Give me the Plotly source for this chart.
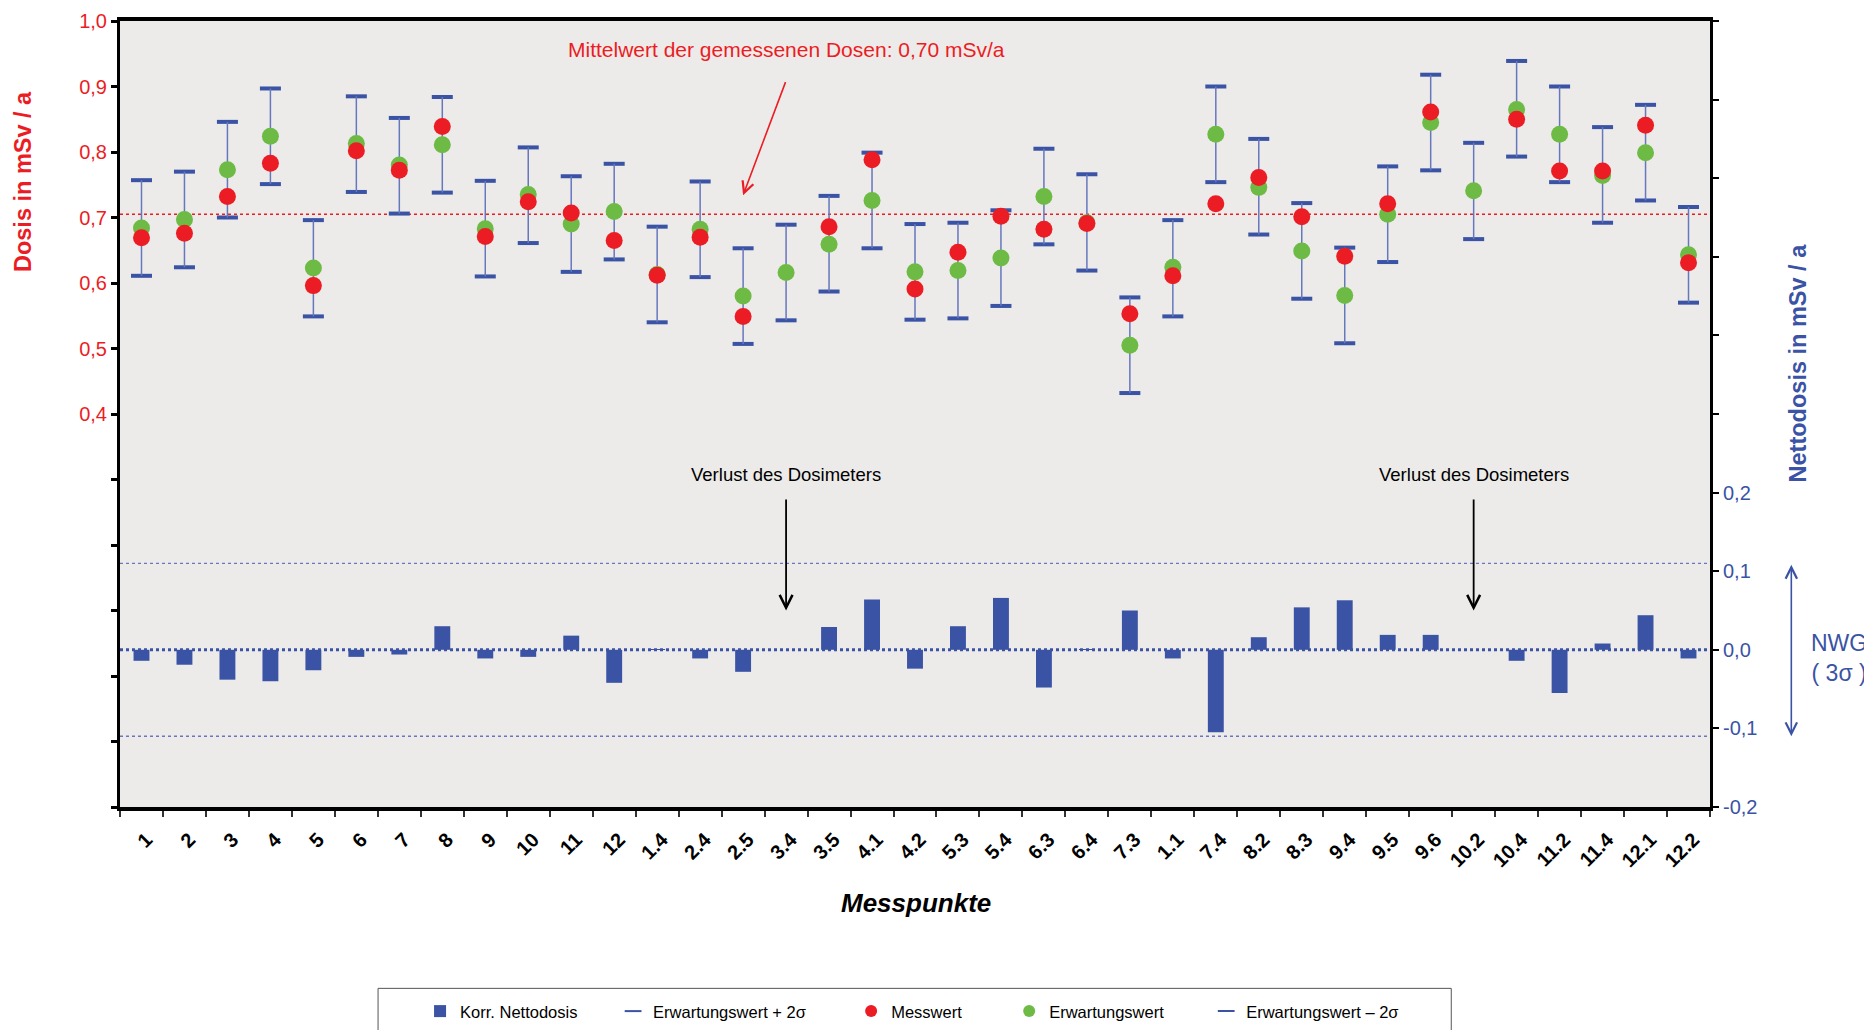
import plotly.graph_objects as go

# ---------------- data ----------------
categories = ["1", "2", "3", "4", "5", "6", "7", "8", "9", "10", "11", "12",
              "1.4", "2.4", "2.5", "3.4", "3.5", "4.1", "4.2", "5.3", "5.4", "6.3",
              "6.4", "7.3", "1.1", "7.4", "8.2", "8.3", "9.4", "9.5", "9.6", "10.2",
              "10.4", "11.2", "11.4", "12.1", "12.2"]

messwert = [0.669, 0.676, 0.732, 0.783, 0.596, 0.802, 0.772, 0.839, 0.671, 0.724,
            0.707, 0.665, 0.612, 0.670, 0.549, None, 0.686, 0.788, 0.591, 0.647,
            0.702, 0.682, 0.691, 0.553, 0.611, 0.721, 0.761, 0.701, 0.641, 0.721,
            0.861, None, 0.850, 0.771, 0.771, 0.841, 0.631]

erwartungswert = [0.684, 0.697, 0.773, 0.824, 0.623, 0.813, 0.780, 0.811, 0.683, 0.735,
                  0.690, 0.709, 0.613, 0.682, 0.580, 0.616, 0.659, 0.726, 0.617, 0.619,
                  0.638, 0.732, 0.692, 0.505, 0.624, 0.827, 0.746, 0.649, 0.581, 0.705,
                  0.845, 0.741, 0.865, 0.827, 0.764, 0.799, 0.643]

erw_plus_2s = [0.757, 0.770, 0.846, 0.897, 0.696, 0.885, 0.852, 0.884, 0.756, 0.807,
               0.763, 0.782, 0.686, 0.755, 0.653, 0.689, 0.733, 0.799, 0.690, 0.692,
               0.711, 0.805, 0.766, 0.578, 0.696, 0.900, 0.820, 0.722, 0.654, 0.778,
               0.918, 0.814, 0.939, 0.900, 0.838, 0.872, 0.716]

erw_minus_2s = [0.611, 0.624, 0.700, 0.751, 0.549, 0.739, 0.706, 0.738, 0.610, 0.661,
                0.617, 0.636, 0.540, 0.609, 0.507, 0.543, 0.587, 0.653, 0.544, 0.546,
                0.565, 0.659, 0.619, 0.432, 0.549, 0.754, 0.674, 0.576, 0.508, 0.632,
                0.772, 0.667, 0.793, 0.754, 0.692, 0.726, 0.570]

korr_nettodosis = [-0.014, -0.019, -0.038, -0.040, -0.026, -0.009, -0.006, 0.030, -0.011, -0.009,
                   0.018, -0.042, 0.001, -0.011, -0.028, None, 0.029, 0.064, -0.024, 0.030,
                   0.066, -0.048, 0.001, 0.050, -0.011, -0.105, 0.016, 0.054, 0.063, 0.019,
                   0.019, None, -0.014, -0.055, 0.008, 0.044, -0.011]

mittelwert = 0.705          # mean of measured doses (left axis)
nwg = 0.11                  # detection limit (3 sigma), right axis
verlust_punkte = ["3.4", "10.2"]
mittelwert_pfeil_von = "3.4"
mittelwert_pfeil_zu = "2.5"

left_tick_vals = [-0.2, -0.1, 0.0, 0.1, 0.2, 0.3, 0.4, 0.5, 0.6, 0.7, 0.8, 0.9, 1.0]
left_tick_text = ["", "", "", "", "", "", "0,4", "0,5", "0,6", "0,7", "0,8", "0,9", "1,0"]
right_tick_vals = [-0.2, -0.1, 0.0, 0.1, 0.2, 0.3, 0.4, 0.5, 0.6, 0.7, 0.8]
right_tick_text = ["-0,2", "-0,1", "0,0", "0,1", "0,2", "", "", "", "", "", ""]

# ---------------- styles / geometry ----------------
FONT = "Liberation Sans, Arial, Helvetica, sans-serif"
RED = "#ec1c24"
GREEN = "#6dbb45"
BLUE = "#3a53a4"
BLUE_LIGHT = "#6677bd"
BG = "#ecebe9"

PAGE_OFFSET = 8                      # default body margin of the html page
PLOT_L, PLOT_R, PLOT_T, PLOT_B = 120, 1709.7, 21, 806.7
PW, PH = PLOT_R - PLOT_L, PLOT_B - PLOT_T


def px(xp):
    return (xp - PLOT_L) / PW


def py(yp):
    return (PLOT_B - yp) / PH


def cat_idx(name):
    return categories.index(name)


err_plus = [u - e for u, e in zip(erw_plus_2s, erwartungswert)]
err_minus = [e - l for e, l in zip(erwartungswert, erw_minus_2s)]

fig = go.Figure()

fig.add_trace(go.Bar(
    x=categories, y=korr_nettodosis, yaxis="y2", name="Korr. Nettodosis",
    marker=dict(color=BLUE, line=dict(width=0)), width=0.37, legend="legend",
))
fig.add_trace(go.Scatter(
    x=categories, y=erw_plus_2s, mode="markers", name="Erwartungswert + 2σ",
    marker=dict(symbol="line-ew", size=15, line=dict(width=4, color=BLUE)),
    legend="legend2",
))
fig.add_trace(go.Scatter(
    x=categories, y=erw_minus_2s, mode="markers", name="Erwartungswert – 2σ",
    marker=dict(symbol="line-ew", size=15, line=dict(width=4, color=BLUE)),
    legend="legend5",
))
fig.add_trace(go.Scatter(
    x=categories, y=erwartungswert, mode="markers", name="Erwartungswert",
    marker=dict(symbol="circle", size=17, color=GREEN, line=dict(width=0)),
    error_y=dict(type="data", symmetric=False, array=err_plus, arrayminus=err_minus,
                 color=BLUE_LIGHT, thickness=1.5, width=0),
    legend="legend4",
))
fig.add_trace(go.Scatter(
    x=categories, y=messwert, mode="markers", name="Messwert",
    marker=dict(symbol="circle", size=17, color=RED, line=dict(width=0)),
    legend="legend3",
))

shapes = [
    dict(type="line", xref="paper", x0=0, x1=1, yref="y", y0=mittelwert, y1=mittelwert,
         line=dict(color=RED, width=1.5, dash="dot"), layer="below"),
    dict(type="line", xref="paper", x0=0, x1=1, yref="y2", y0=nwg, y1=nwg,
         line=dict(color=BLUE_LIGHT, width=1.3, dash="dot"), layer="below"),
    dict(type="line", xref="paper", x0=0, x1=1, yref="y2", y0=-nwg, y1=-nwg,
         line=dict(color=BLUE_LIGHT, width=1.3, dash="dot"), layer="below"),
    dict(type="line", xref="paper", x0=0, x1=1, yref="y2", y0=0, y1=0,
         line=dict(color=BLUE, width=3, dash="dot"), layer="above"),
    # legend frame (runs past the bottom edge as in the original)
    dict(type="path", xref="paper", yref="paper",
         path=f"M {px(378)} {py(1045)} L {px(378)} {py(988)} L {px(1451)} {py(988)} L {px(1451)} {py(1045)}",
         line=dict(color="#555555", width=1)),
]

annotations = [
    dict(text="Mittelwert der gemessenen Dosen: 0,70 mSv/a", x=cat_idx(mittelwert_pfeil_von), y=0.957,
         xref="x", yref="y", xanchor="center", yanchor="middle",
         showarrow=False, font=dict(family=FONT, size=21, color=RED)),
    dict(text="", x=cat_idx(mittelwert_pfeil_zu), y=0.734, xref="x", yref="y",
         ax=cat_idx(mittelwert_pfeil_von), ay=0.909, axref="x", ayref="y",
         showarrow=True, arrowhead=5, arrowsize=1.4, arrowwidth=1.6, arrowcolor=RED, standoff=0),
    dict(text="Dosis in mSv / a", xref="paper", yref="paper", x=px(23), y=py(181),
         xanchor="center", yanchor="middle", textangle=-90, showarrow=False,
         font=dict(family=FONT, size=23.5, color=RED, weight="bold")),
    dict(text="Nettodosis in mSv / a", xref="paper", yref="paper", x=px(1798), y=py(363),
         xanchor="center", yanchor="middle", textangle=-90, showarrow=False,
         font=dict(family=FONT, size=23.5, color=BLUE, weight="bold")),
    dict(text="Messpunkte", xref="paper", yref="paper", x=px(915.7), y=py(903),
         xanchor="center", yanchor="middle", showarrow=False,
         font=dict(family=FONT, size=26, color="black", weight="bold", style="italic")),
    dict(text="NWG<br>( 3σ )", xref="paper", yref="y2", x=px(1839), y=-0.011,
         xanchor="center", yanchor="middle",
         showarrow=False, align="center", font=dict(family=FONT, size=23, color=BLUE)),
    dict(text="", xref="paper", yref="y2", x=px(1791), y=-nwg, axref="pixel", ax=0,
         ayref="y2", ay=nwg, showarrow=True, arrowside="end+start", arrowhead=5, startarrowhead=5,
         arrowsize=1.4, startarrowsize=1.4, arrowwidth=1.6, arrowcolor=BLUE, standoff=0, startstandoff=0),
]
for p in verlust_punkte:
    i = cat_idx(p)
    annotations.append(dict(text="Verlust des Dosimeters", x=i, y=0.2235, xref="x", yref="y2",
                            xanchor="center", yanchor="middle",
                            showarrow=False, font=dict(family=FONT, size=18.5, color="black")))
    annotations.append(dict(text="", x=i, y=0.05, xref="x", yref="y2", ax=i, ay=0.193,
                            axref="x", ayref="y2", showarrow=True, arrowhead=5, arrowsize=1.4,
                            arrowwidth=1.8, arrowcolor="black", standoff=0))

LEG_Y = py(1011)
leg_common = dict(orientation="h", xanchor="left", y=LEG_Y, yanchor="middle",
                  font=dict(family=FONT, size=16.5, color="black"),
                  bgcolor="rgba(0,0,0,0)", borderwidth=0, itemsizing="constant")
# symbol centres of the five legend entries (pixels)
leg_symbol_x = [442, 635, 873, 1031, 1228]
legends = {}
for k, sx in enumerate(leg_symbol_x):
    key = "legend" if k == 0 else f"legend{k + 1}"
    legends[key] = dict(leg_common, x=px(sx - 22))

W, H = 1872 - PAGE_OFFSET, 1030 - PAGE_OFFSET
fig.update_layout(
    width=W, height=H,
    margin=dict(l=PLOT_L - PAGE_OFFSET, r=W + PAGE_OFFSET - PLOT_R, t=PLOT_T - PAGE_OFFSET,
                b=H + PAGE_OFFSET - PLOT_B, autoexpand=False),
    paper_bgcolor="white", plot_bgcolor=BG,
    separators=",.",
    font=dict(family=FONT, color="black"),
    showlegend=True,
    xaxis=dict(type="category", categoryorder="array", categoryarray=categories,
               range=[-0.5, len(categories) - 0.5],
               showline=True, linecolor="black", linewidth=4, mirror=True,
               ticks="outside", tickson="boundaries", ticklen=6, tickwidth=1.5, tickcolor="#333",
               tickangle=-45, ticklabelstandoff=9, ticklabelshift=5,
               tickfont=dict(family=FONT, size=20, color="black", weight="bold"),
               showgrid=False, zeroline=False),
    yaxis=dict(range=[-0.2, 1.0], tickvals=left_tick_vals, ticktext=left_tick_text,
               showline=True, linecolor="black", linewidth=3, mirror=True,
               ticks="outside", ticklen=6, tickwidth=3, tickcolor="black",
               ticklabeloverflow="allow",
               tickfont=dict(family=FONT, size=20, color=RED),
               showgrid=False, zeroline=False),
    yaxis2=dict(range=[-0.2, 0.8], tickvals=right_tick_vals, ticktext=right_tick_text,
                overlaying="y", side="right",
                showline=True, linecolor="black", linewidth=3,
                ticks="outside", ticklen=6, tickwidth=1.5, tickcolor="black",
                ticklabeloverflow="allow",
                tickfont=dict(family=FONT, size=20, color=BLUE),
                showgrid=False, zeroline=False),
    shapes=shapes,
    annotations=annotations,
    **legends,
)

fig.write_html("out.html")
